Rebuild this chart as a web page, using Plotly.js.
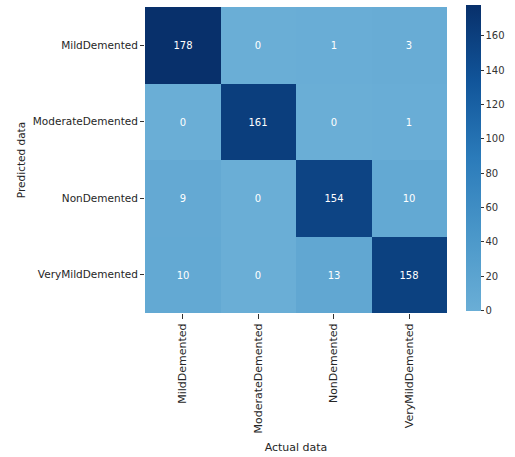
<!DOCTYPE html>
<html>
<head>
<meta charset="utf-8">
<script src="https://cdn.plot.ly/plotly-3.0.1.min.js"></script>
<style>html,body{margin:0;padding:0;background:#fff;}#chart{width:515px;height:457px;}</style>
</head>
<body>
<div id="chart"></div>
<script>
const actualLabels = ["MildDemented", "ModerateDemented", "NonDemented", "VeryMildDemented"];
const predictedLabels = ["MildDemented", "ModerateDemented", "NonDemented", "VeryMildDemented"];
const rowMild = [178, 0, 1, 3];
const rowModerate = [0, 161, 0, 1];
const rowNon = [9, 0, 154, 10];
const rowVeryMild = [10, 0, 13, 158];
const colorbarTicks = [0, 20, 40, 60, 80, 100, 120, 140, 160];

const z = [rowMild, rowModerate, rowNon, rowVeryMild];

const trace = {
  type: "heatmap",
  x: actualLabels,
  y: predictedLabels,
  z: z,
  zmin: 0,
  zmax: 178,
  colorscale: [
    [0, "#6aaed6"],
    [0.25, "#4a97c9"],
    [0.5, "#2b7bba"],
    [0.75, "#11559a"],
    [1, "#08306b"]
  ],
  texttemplate: "%{z}",
  textfont: {family: "DejaVu Sans", size: 10, color: "#ffffff"},
  hoverongaps: false,
  colorbar: {
    xref: "container", x: 0.905, xanchor: "left",
    yref: "container", y: 1 - 7 / 457, yanchor: "top",
    len: 306, lenmode: "pixels",
    thickness: 15, outlinewidth: 0, xpad: 0, ypad: 0,
    ticks: "outside", ticklen: 3, tickcolor: "#333",
    tickvals: colorbarTicks,
    tickfont: {family: "DejaVu Sans", size: 10, color: "#333"}
  }
};

const layout = {
  width: 515, height: 457,
  margin: {l: 145, r: 68, t: 7, b: 144},
  paper_bgcolor: "#fff", plot_bgcolor: "#fff",
  font: {family: "DejaVu Sans", size: 10, color: "#262626"},
  xaxis: {
    type: "category",
    tickangle: -90,
    ticks: "outside", ticklen: 5, tickcolor: "#333",
    showgrid: false, zeroline: false, showline: false,
    tickfont: {family: "DejaVu Sans", size: 11, color: "#262626"},
    title: {text: "Actual data", font: {family: "DejaVu Sans", size: 11, color: "#262626"}, standoff: 10}
  },
  yaxis: {
    type: "category",
    autorange: "reversed",
    ticks: "outside", ticklen: 4, tickcolor: "#333",
    showgrid: false, zeroline: false, showline: false,
    tickfont: {family: "DejaVu Sans", size: 10.5, color: "#262626"},
    title: {text: "Predicted data", font: {family: "DejaVu Sans", size: 10.5, color: "#262626"}, standoff: 5}
  }
};

Plotly.newPlot("chart", [trace], layout, {displayModeBar: false, staticPlot: true});
</script>
</body>
</html>
